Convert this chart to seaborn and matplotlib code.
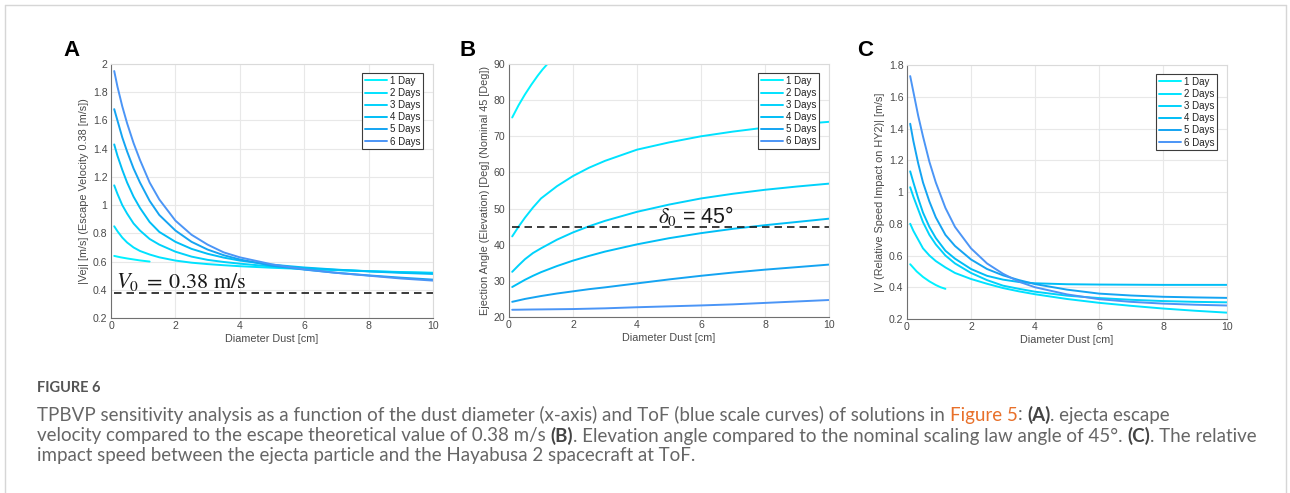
import matplotlib
matplotlib.use("Agg")
import matplotlib.pyplot as plt
import pandas as pd
import seaborn as sns
from matplotlib.lines import Line2D
from matplotlib.ticker import FormatStrFormatter

sns.set_theme(style="whitegrid")
plt.rcParams['font.family'] = ['Liberation Sans', 'DejaVu Sans']
plt.rcParams['mathtext.fontset'] = 'stix'

# ---------------------------------------------------------------- data
tof_labels = ["1 Day", "2 Days", "3 Days", "4 Days", "5 Days", "6 Days"]
tof_colors = ["#00F2FF", "#00E2FF", "#00D2FB", "#00BEF6", "#14A4F2", "#4B95F6"]

# dust diameter samples [cm]
d_short = [0.1, 0.3, 0.5, 0.7, 0.9, 1.05, 1.2]
d_full = [0.1, 0.2, 0.35, 0.5, 0.7, 0.9, 1.2, 1.5, 2, 2.5, 3, 3.5, 4, 5, 6, 7, 8, 9, 10]
d_angle = [0.1, 0.3, 0.5, 0.75, 1, 1.5, 2, 2.5, 3, 4, 5, 6, 7, 8, 9, 10]

# (A) ejecta escape velocity |Vej| [m/s]
vej_1d = [0.64, 0.63, 0.622, 0.615, 0.608, 0.604, 0.600]
vej_2d = [0.85, 0.815, 0.77, 0.735, 0.70, 0.675, 0.65, 0.63, 0.607, 0.592, 0.582, 0.574, 0.567, 0.556, 0.547, 0.539, 0.532, 0.526, 0.521]
vej_3d = [1.14, 1.08, 1.00, 0.94, 0.87, 0.82, 0.76, 0.72, 0.67, 0.635, 0.612, 0.597, 0.585, 0.565, 0.552, 0.541, 0.532, 0.524, 0.518]
vej_4d = [1.43, 1.35, 1.25, 1.16, 1.06, 0.98, 0.88, 0.81, 0.74, 0.69, 0.655, 0.628, 0.607, 0.578, 0.558, 0.543, 0.530, 0.520, 0.512]
vej_5d = [1.68, 1.60, 1.48, 1.38, 1.26, 1.16, 1.03, 0.93, 0.82, 0.74, 0.685, 0.645, 0.615, 0.57, 0.543, 0.52, 0.502, 0.486, 0.472]
vej_6d = [1.95, 1.84, 1.70, 1.58, 1.44, 1.32, 1.16, 1.04, 0.89, 0.79, 0.72, 0.665, 0.63, 0.58, 0.545, 0.52, 0.50, 0.48, 0.465]
V0 = 0.38

# (B) ejection elevation angle [deg]
ang_1d = [75.2, 78.6, 81.6, 84.3, 86.8, 88.5, 90.0]
ang_2d = [42.3, 45.0, 47.5, 50.3, 52.8, 56.2, 59.0, 61.3, 63.2, 66.3, 68.3, 70.0, 71.3, 72.4, 73.3, 74.0]
ang_3d = [32.5, 34.3, 36.0, 37.7, 39.0, 41.4, 43.4, 45.1, 46.6, 49.1, 51.1, 52.8, 54.1, 55.2, 56.1, 56.9]
ang_4d = [28.3, 29.3, 30.3, 31.4, 32.4, 34.1, 35.6, 36.9, 38.1, 40.1, 41.8, 43.2, 44.4, 45.4, 46.3, 47.2]
ang_5d = [24.2, 24.6, 25.0, 25.4, 25.8, 26.5, 27.1, 27.7, 28.2, 29.3, 30.4, 31.4, 32.3, 33.1, 33.8, 34.5]
ang_6d = [22.0, 22.02, 22.05, 22.08, 22.1, 22.15, 22.2, 22.3, 22.4, 22.7, 22.95, 23.2, 23.5, 23.9, 24.3, 24.7]
DELTA0 = 45

# (C) relative impact speed on HY2 [m/s]
rel_1d = [0.545, 0.50, 0.465, 0.437, 0.414, 0.40, 0.39]
rel_2d = [0.80, 0.755, 0.70, 0.645, 0.60, 0.565, 0.525, 0.49, 0.452, 0.422, 0.395, 0.374, 0.356, 0.326, 0.302, 0.283, 0.266, 0.252, 0.24]
rel_3d = [1.03, 0.97, 0.89, 0.81, 0.73, 0.67, 0.60, 0.55, 0.49, 0.445, 0.41, 0.39, 0.372, 0.347, 0.332, 0.321, 0.313, 0.308, 0.305]
rel_4d = [1.13, 1.06, 0.96, 0.87, 0.78, 0.71, 0.63, 0.58, 0.515, 0.472, 0.448, 0.433, 0.425, 0.419, 0.417, 0.416, 0.415, 0.415, 0.415]
rel_5d = [1.43, 1.32, 1.18, 1.06, 0.94, 0.84, 0.73, 0.66, 0.575, 0.515, 0.475, 0.445, 0.42, 0.385, 0.36, 0.348, 0.34, 0.336, 0.333]
rel_6d = [1.73, 1.63, 1.48, 1.35, 1.19, 1.06, 0.90, 0.78, 0.645, 0.55, 0.485, 0.435, 0.40, 0.355, 0.325, 0.308, 0.297, 0.29, 0.285]

y_ticks_a = [0.2, 0.4, 0.6, 0.8, 1.0, 1.2, 1.4, 1.6, 1.8, 2.0]
y_ticks_b = [20, 30, 40, 50, 60, 70, 80, 90]
y_ticks_c = [0.2, 0.4, 0.6, 0.8, 1.0, 1.2, 1.4, 1.6, 1.8]
x_ticks = [0, 2, 4, 6, 8, 10]


def long_frame(xs_list, ys_list):
    rows = []
    for lab, xs, ys in zip(tof_labels, xs_list, ys_list):
        rows.extend((lab, x, y) for x, y in zip(xs, ys))
    return pd.DataFrame(rows, columns=["ToF", "d", "v"])


df_a = long_frame([d_short] + [d_full] * 5, [vej_1d, vej_2d, vej_3d, vej_4d, vej_5d, vej_6d])
df_b = long_frame([d_short] + [d_angle] * 5, [ang_1d, ang_2d, ang_3d, ang_4d, ang_5d, ang_6d])
df_c = long_frame([d_short] + [d_full] * 5, [rel_1d, rel_2d, rel_3d, rel_4d, rel_5d, rel_6d])

# ---------------------------------------------------------------- figure
W, H = 1290, 493
fig = plt.figure(figsize=(W / 100, H / 100), dpi=100)
fig.patch.set_facecolor("white")


def px_axes(left, top, right, bottom):
    return fig.add_axes([left / W, 1 - bottom / H, (right - left) / W, (bottom - top) / H])


ax_a = px_axes(111, 64, 433, 318)
ax_b = px_axes(509, 64, 829, 317)
ax_c = px_axes(907, 65, 1227, 319)

palette = dict(zip(tof_labels, tof_colors))


def draw_panel(ax, df, ylim, yticks, ylabel):
    sns.lineplot(data=df, x="d", y="v", hue="ToF", hue_order=tof_labels, palette=palette,
                 estimator=None, sort=False, lw=1.4, ax=ax)
    ax.set_xlim(0, 10)
    ax.set_ylim(*ylim)
    ax.set_xticks(x_ticks)
    ax.set_yticks(yticks)
    ax.yaxis.set_major_formatter(FormatStrFormatter("%g"))
    ax.set_facecolor("white")
    ax.grid(True, color="#e8e8e8", lw=0.8)
    for s in ("top", "right"):
        ax.spines[s].set_color("#dadada")
        ax.spines[s].set_linewidth(0.8)
    for s in ("left", "bottom"):
        ax.spines[s].set_color("#707070")
        ax.spines[s].set_linewidth(0.8)
    ax.tick_params(direction="in", length=3, width=0.6, colors="#707070",
                   labelcolor="#4a4a4a", labelsize=7.6, pad=2.5)
    ax.set_xlabel("Diameter Dust [cm]", fontsize=7.8, color="#4a4a4a", labelpad=2)
    ax.set_ylabel(ylabel, fontsize=7.8, color="#4a4a4a", labelpad=3)
    handles, labels = ax.get_legend_handles_labels()
    leg = ax.legend(handles, labels, loc="upper right", bbox_to_anchor=(0.969, 0.965),
                    fontsize=7, frameon=True, fancybox=False, framealpha=1,
                    edgecolor="#3c3c3c", borderpad=0.3, labelspacing=0.22,
                    handlelength=2.3, handletextpad=0.25, borderaxespad=0)
    leg.get_frame().set_linewidth(0.8)
    for t in leg.get_texts():
        t.set_color("#222222")


draw_panel(ax_a, df_a, (0.2, 2.0), y_ticks_a, "|Vej| [m/s] (Escape Velocity 0.38 [m/s])")
draw_panel(ax_b, df_b, (20, 90), y_ticks_b, "Ejection Angle (Elevation) [Deg] (Nominal 45 [Deg])")
draw_panel(ax_c, df_c, (0.2, 1.8), y_ticks_c, "|V (Relative Speed Impact on HY2)| [m/s]")

# reference levels
ax_a.axhline(V0, xmin=0.01, xmax=1, color="#1a1a1a", lw=1.2, ls=(0, (4.5, 3)))
ax_a.text(0.15, 0.415, r"$V_0\;=\;0.38\ \mathrm{m/s}$", fontsize=16, color="#1a1a1a",
          va="baseline", ha="left")
ax_b.axhline(DELTA0, xmin=0.01, xmax=1, color="#1a1a1a", lw=1.2, ls=(0, (4.5, 3)))
ax_b.text(4.65, 46.0, r"$\delta_0$ = 45°", fontsize=15.5, color="#1a1a1a",
          va="baseline", ha="left")

# panel letters
for lab, xc in (("A", 72), ("B", 468), ("C", 865)):
    fig.text(xc / W, 1 - 51 / H, lab, fontsize=16, fontweight="bold", color="black",
             ha="center", va="center")

# outer frame (left, top, right)
frame_kw = dict(transform=fig.transFigure, color="#d6d6d6", lw=1.0)
fig.add_artist(Line2D([4.5 / W, 4.5 / W], [0, 1 - 5 / H], **frame_kw))
fig.add_artist(Line2D([4.5 / W, 1285.5 / W], [1 - 5 / H, 1 - 5 / H], **frame_kw))
fig.add_artist(Line2D([1285.5 / W, 1285.5 / W], [0, 1 - 5 / H], **frame_kw))

# ---------------------------------------------------------------- caption
grey = "#666666"
orange = "#E8702A"
cap_font = ["Lato", "DejaVu Sans"]

fig.text(37 / W, 1 - 388 / H, "FIGURE 6", fontsize=10.5, fontweight="bold", color="#555555",
         family=cap_font, va="center", ha="left")

caption_lines = [
    [("TPBVP sensitivity analysis as a function of the dust diameter (x-axis) and ToF (blue scale curves) of solutions in ", grey, "normal"),
     ("Figure 5", orange, "normal"), (": ", grey, "normal"), ("(A)", "#444444", "bold"),
     (". ejecta escape", grey, "normal")],
    [("velocity compared to the escape theoretical value of 0.38 m/s ", grey, "normal"),
     ("(B)", "#444444", "bold"),
     (". Elevation angle compared to the nominal scaling law angle of 45°. ", grey, "normal"),
     ("(C)", "#444444", "bold"), (". The relative", grey, "normal")],
    [("impact speed between the ejecta particle and the Hayabusa 2 spacecraft at ToF.", grey, "normal")],
]
line_centers = [415, 436, 456]

renderer = fig.canvas.get_renderer()


def line_width(runs, fs):
    total = 0.0
    for txt, col, wt in runs:
        t = fig.text(0, 0, txt, fontsize=fs, fontweight=wt, family=cap_font)
        total += t.get_window_extent(renderer).width
        t.remove()
    return total


base_fs = 12.0
cap_fs = base_fs * (1257 - 37) / line_width(caption_lines[1], base_fs)

for runs, yc in zip(caption_lines, line_centers):
    x = 37.0
    for txt, col, wt in runs:
        t = fig.text(x / W, 1 - yc / H, txt, fontsize=cap_fs, fontweight=wt, color=col,
                     family=cap_font, va="center", ha="left")
        x += t.get_window_extent(renderer).width

fig.savefig("out.png", dpi=100, facecolor="white")
